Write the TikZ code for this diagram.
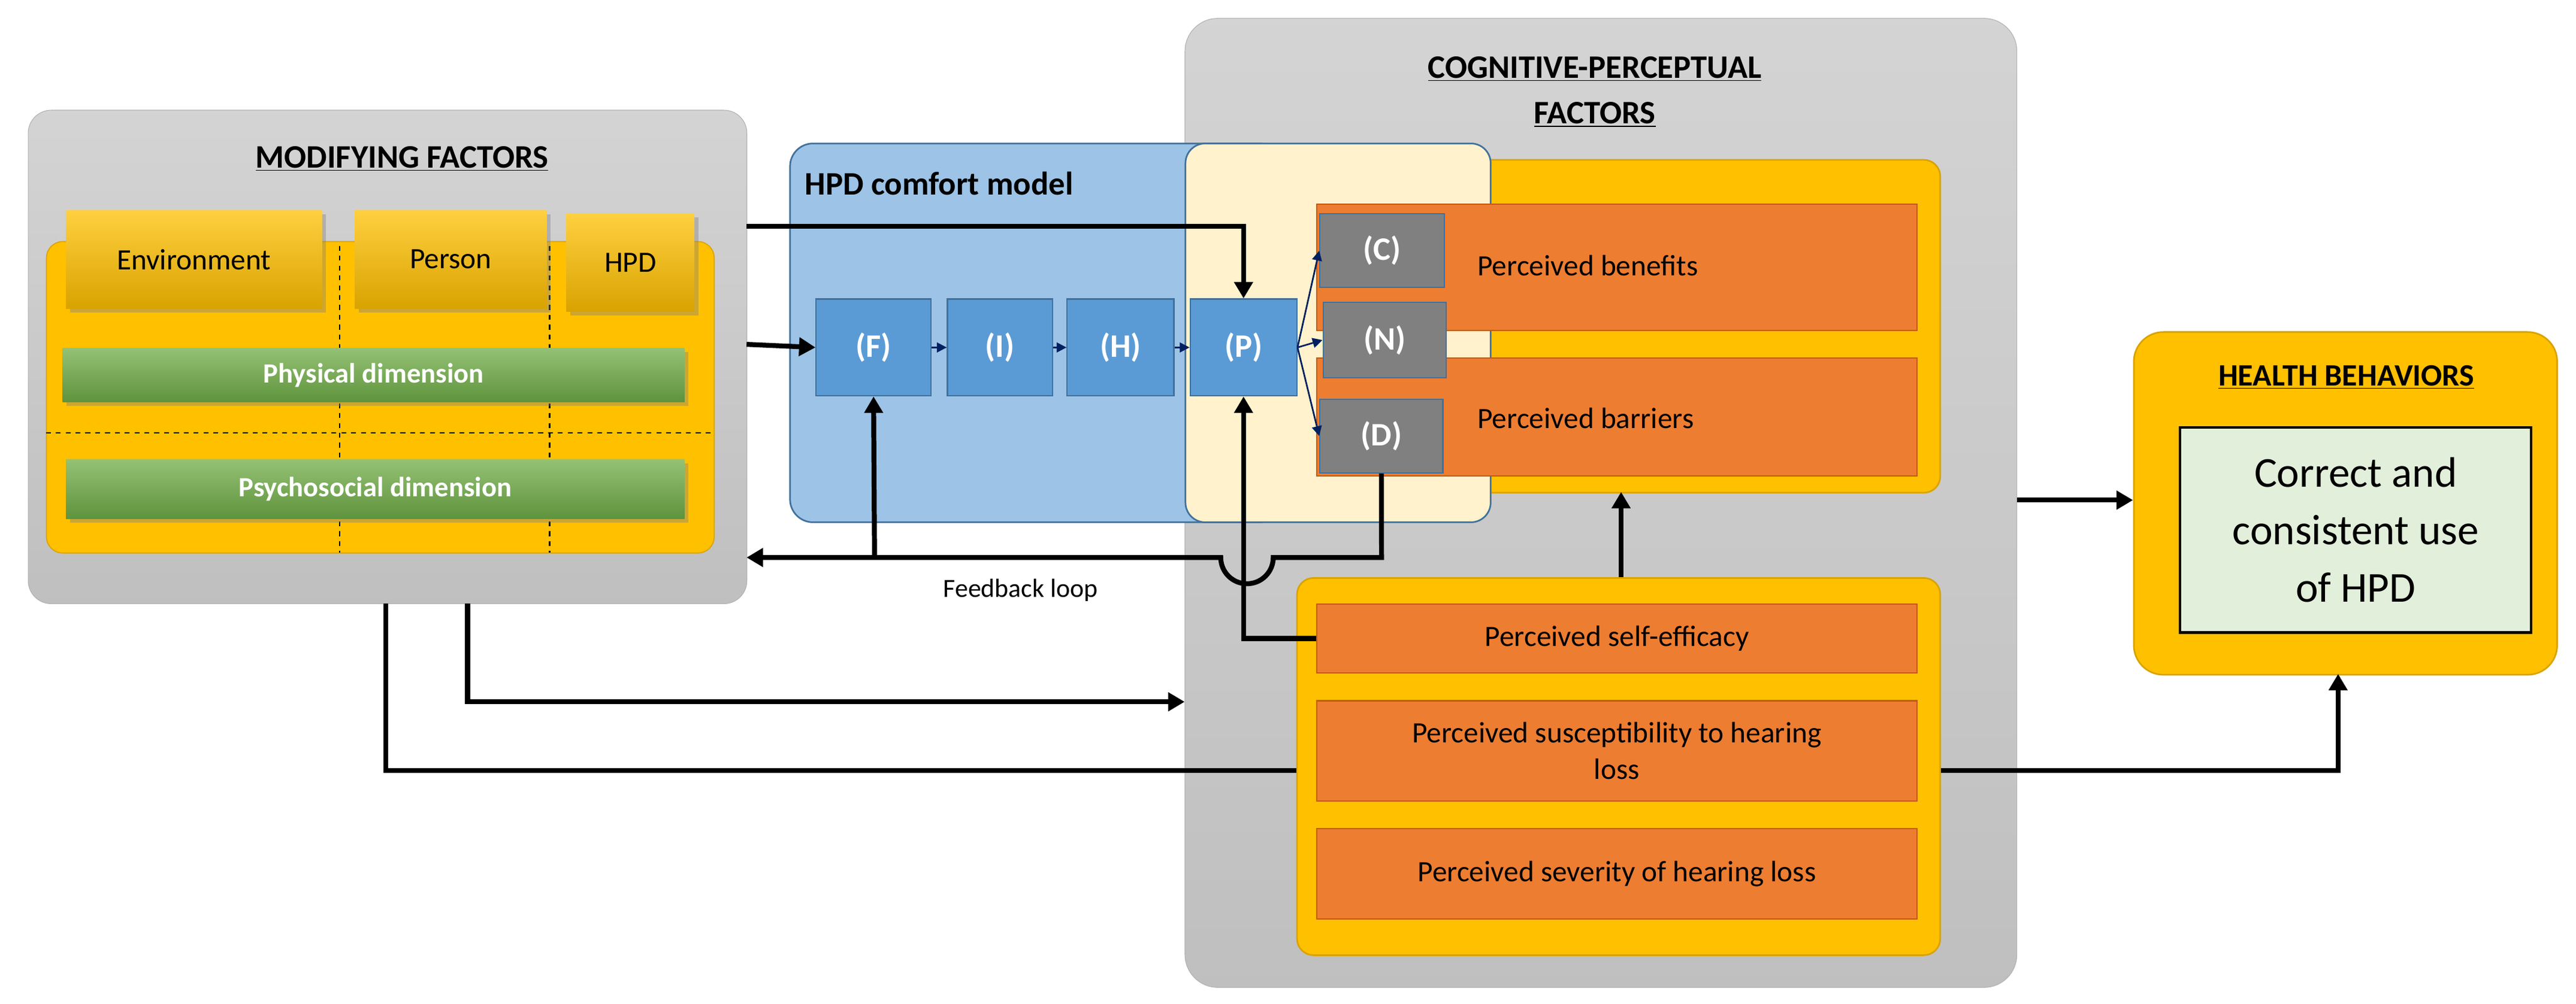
\documentclass[tikz,border=0pt]{standalone}
\usepackage{fontspec}
\setmainfont{Carlito}
\usetikzlibrary{arrows.meta,shadows}
\definecolor{gyel}{HTML}{FFC000}
\definecolor{gyelb}{HTML}{D9A300}
\definecolor{gora}{HTML}{ED7D31}
\definecolor{gorab}{HTML}{C55A11}
\definecolor{gblue}{HTML}{5B9BD5}
\definecolor{gblueb}{HTML}{41719C}
\definecolor{lblue}{HTML}{9DC3E6}
\definecolor{cream}{HTML}{FFF2CC}
\definecolor{dblue}{HTML}{002060}
\definecolor{ggreen}{HTML}{70AD47}
\definecolor{lgreen}{HTML}{E2EFDA}
\begin{document}
\begin{tikzpicture}[x=1pt,y=-1pt,
  graybox/.style={draw=gray!60,rounded corners=14pt,top color=black!17,bottom color=black!25},
  yelbox/.style={draw=gyelb,line width=1pt,fill=gyel,rounded corners=10pt},
  tab/.style={top color=gyel!75!white,bottom color=gyel!85!black,drop shadow={opacity=0.4}},
  gbar/.style={top color=ggreen!75!white,bottom color=ggreen!85!black,drop shadow={opacity=0.4},text=white,font=\bfseries\fontsize{17}{20}\selectfont},
  ora/.style={draw=gorab,line width=0.8pt,fill=gora,font=\fontsize{18}{22}\selectfont,align=center},
  stp/.style={draw=gblueb,line width=0.8pt,fill=gblue,text=white,font=\bfseries\fontsize{20}{24}\selectfont},
  gstp/.style={draw=gblueb,line width=0.8pt,fill=black!50,text=white,font=\bfseries\fontsize{20}{24}\selectfont},
  bigarr/.style={line width=3pt,-{Triangle[length=10pt,width=11pt]}},
  tarr/.style={dblue,line width=1pt,-{Triangle[length=6pt,width=6pt]}},
  ttl/.style={font=\bfseries\fontsize{20}{26}\selectfont,align=center}]
\useasboundingbox (0,0) rectangle (1570,612);
% modifying factors
\node[graybox,minimum width=438,minimum height=301,anchor=north west] (mod) at (17,67) {};
\node[ttl] (modt) at (245,97) {\underline{MODIFYING FACTORS}};
\node[yelbox,line width=0.6pt,minimum width=407,minimum height=190,anchor=north west] (modin) at (28,147) {};
\draw[dashed,line width=1pt] (207,150) -- (207,337) (335,150) -- (335,337) (28,264) -- (435,264);
\node[tab,minimum width=156,minimum height=60,anchor=north west] (env) at (40,128) {};
\node[font=\fontsize{18}{22}\selectfont] at (env.center) {Environment};
\node[tab,minimum width=117,minimum height=60,anchor=north west] (per) at (216,128) {};
\node[font=\fontsize{18}{22}\selectfont] at (per.center) {Person};
\node[tab,minimum width=78,minimum height=60,anchor=north west] (hpd) at (345,130) {};
\node[font=\fontsize{18}{22}\selectfont] at (hpd.center) {HPD};
\node[gbar,minimum width=379,minimum height=33,anchor=north west] (phys) at (38,212) {Physical dimension};
\node[gbar,minimum width=377,minimum height=36,anchor=north west] (psy) at (40,280) {Psychosocial dimension};
% cognitive
\node[graybox,rounded corners=20pt,minimum width=507,minimum height=591,anchor=north west] (cog) at (722,11) {};
\node[ttl] (cogt) at (972,56) {\underline{COGNITIVE-PERCEPTUAL}\\[2pt]\underline{FACTORS}};
% comfort model
\node[draw=gblueb,line width=1pt,fill=lblue,rounded corners=14pt,minimum width=300,minimum height=231,anchor=north west] (cm) at (481,87) {};
\node[font=\bfseries\fontsize{20}{24}\selectfont,anchor=west] (cmt) at (487,112) {HPD comfort model};
\node[yelbox,minimum width=300,minimum height=203,anchor=north west] (up) at (882,97) {};
\node[draw=gblueb,line width=1pt,fill=cream,rounded corners=12pt,minimum width=186,minimum height=231,anchor=north west] (cr) at (722,87) {};
\node[ora,minimum width=366,minimum height=77,anchor=north west] (ben) at (802,124) {};
\node[anchor=west,font=\fontsize{18}{22}\selectfont] at (897,162) {Perceived benefits};
\node[ora,minimum width=366,minimum height=72,anchor=north west] (bar) at (802,218) {};
\node[anchor=west,font=\fontsize{18}{22}\selectfont] at (897,255) {Perceived barriers};
\node[gstp,minimum width=76,minimum height=45,anchor=north west] (C) at (804,130) {(C)};
\node[gstp,minimum width=75,minimum height=46,anchor=north west] (N) at (806,184) {(N)};
\node[gstp,minimum width=75,minimum height=45,anchor=north west] (D) at (804,243) {(D)};
\node[stp,minimum width=70,minimum height=59,anchor=north west] (F) at (497,182) {(F)};
\node[stp,minimum width=64,minimum height=59,anchor=north west] (I) at (577,182) {(I)};
\node[stp,minimum width=65,minimum height=59,anchor=north west] (H) at (650,182) {(H)};
\node[stp,minimum width=65,minimum height=59,anchor=north west] (P) at (725,182) {(P)};
\draw[tarr] (F) -- (I);
\draw[tarr] (I) -- (H);
\draw[tarr] (H) -- (P);
\draw[tarr] (P.east) -- (C.west);
\draw[tarr] (P.east) -- (N.west);
\draw[tarr] (P.east) -- (D.west);
% lower yellow
\node[yelbox,minimum width=392,minimum height=230,anchor=north west] (low) at (790,352) {};
\node[ora,minimum width=366,minimum height=42,anchor=north west] (se) at (802,368) {Perceived self-efficacy};
\node[ora,minimum width=366,minimum height=61,anchor=north west] (sus) at (802,427) {Perceived susceptibility to hearing\\loss};
\node[ora,minimum width=366,minimum height=55,anchor=north west] (sev) at (802,505) {Perceived severity of hearing loss};
% health
\node[yelbox,rounded corners=18pt,minimum width=258,minimum height=209,anchor=north west] (hb) at (1300,202) {};
\node[ttl,font=\bfseries\fontsize{19}{24}\selectfont] (hbt) at (1430,230) {\underline{HEALTH BEHAVIORS}};
\node[draw=black,line width=1.5pt,fill=lgreen,minimum width=214,minimum height=125,anchor=north west] (use) at (1328,260) {};
\node[align=center,font=\fontsize{26}{35}\selectfont] at (use.center) {Correct and\\consistent use\\of HPD};
% connectors
\coordinate (m1) at (455,138);
\draw[bigarr] (m1) -| (P.north);
\coordinate (m2) at (455,210);
\draw[bigarr] (m2) -- (F.west);
\coordinate (fb) at (455,340);
\draw[bigarr] (D.south) -- (842,340) -- (776,340) arc[start angle=0,end angle=180,radius=16] -- (fb);
\draw[bigarr] (533,340) -- (F.south);
\node[font=\fontsize{16}{20}\selectfont] (fbl) at (622,360) {Feedback loop};
\draw[bigarr] (se.west) -| (P.south);
\draw[bigarr] (988,352) -- (988,300);
\draw[bigarr] (285,368) -- (285,428) -- (cog.west |- 0,428);
\draw[line width=3pt] (235,368) -- (235,470) -- (low.west |- 0,470);
\draw[bigarr] (low.east |- 0,470) -| (1425,411);
\draw[bigarr] (cog.east |- 0,305) -- (hb.west |- 0,305);
\end{tikzpicture}
\end{document}
